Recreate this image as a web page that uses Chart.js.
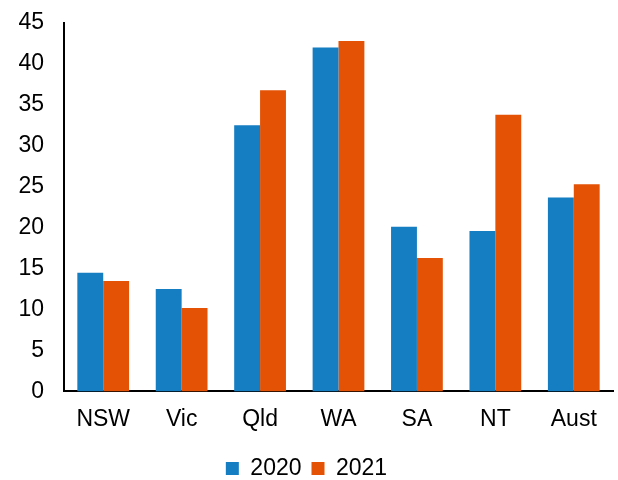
<!DOCTYPE html>
<html>
<head>
<meta charset="utf-8">
<script src="https://cdn.jsdelivr.net/npm/chart.js@4"></script>
<style>
  html, body { margin: 0; padding: 0; background: #fff; }
  #wrap { width: 618px; height: 480px; }
</style>
</head>
<body>
<div id="wrap"><canvas id="chart"></canvas></div>
<script>
    const states = ['NSW', 'Vic', 'Qld', 'WA', 'SA', 'NT', 'Aust'];
    const values2020 = [14.5, 12.5, 32.5, 42.0, 20.1, 19.6, 23.7];
    const values2021 = [13.5, 10.2, 36.8, 42.8, 16.3, 33.8, 25.3];

    const font = { family: "'Liberation Sans', Arial, sans-serif", size: 23 };

    const ctx = document.getElementById('chart').getContext('2d');
    new Chart(ctx, {
        type: 'bar',
        data: {
            labels: states,
            datasets: [{
                label: '2020',
                data: values2020,
                backgroundColor: '#157dc2'
            }, {
                label: '2021',
                data: values2021,
                backgroundColor: '#e35205'
            }]
        },
        options: {
            responsive: true,
            maintainAspectRatio: false,
            animation: false,
            layout: { padding: { left: 0, right: 5, top: 23, bottom: -10 } },
            datasets: { bar: { categoryPercentage: 0.66, barPercentage: 1.0 } },
            plugins: {
                tooltip: { enabled: false },
                legend: {
                    position: 'bottom',
                    labels: {
                        font: font,
                        color: '#000',
                        boxWidth: 13,
                        boxHeight: 13,
                        padding: 10
                    }
                }
            },
            scales: {
                x: {
                    grid: { display: false, drawTicks: false },
                    border: { color: '#000', width: 2 },
                    ticks: { font: font, color: '#000', padding: 14 }
                },
                y: {
                    min: 0,
                    max: 45,
                    grid: { display: false, drawTicks: false },
                    border: { color: '#000', width: 2 },
                    ticks: { stepSize: 5, font: font, color: '#000', padding: 20 },
                    // fixed axis width, and only half a label of room above the top tick
                    afterFit: (scale) => {
                        scale.width = 64;
                        scale.paddingTop = 12;
                        scale.paddingBottom = 12;
                    }
                }
            }
        }
    });
</script>
</body>
</html>
